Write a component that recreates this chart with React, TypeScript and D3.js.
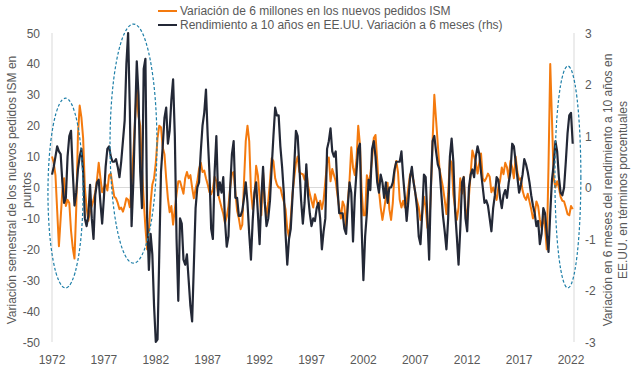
import React from "react";
import * as d3 from "d3";

const startYear = 1972;
const stepsPerYear = 6; // bimonthly readings

const xTickYears = [1972, 1977, 1982, 1987, 1992, 1997, 2002, 2007, 2012, 2017, 2022];
const leftTicks = [50, 40, 30, 20, 10, 0, -10, -20, -30, -40, -50];
const rightTicks = [3, 2, 1, 0, -1, -2, -3];

const legendLabels = [
  "Variación de 6 millones en los nuevos pedidos ISM",
  "Rendimiento a 10 años en EE.UU. Variación a 6 meses (rhs)",
];
const leftTitle = ["Variación semestral de los nuevos pedidos ISM en", "puntos"];
const rightTitle = ["Variación en 6 meses del rendimiento a 10 años en", "EE.UU. en términos porcentuales"];

// ISM new orders, 6-month change (points, left axis)
const ismValues = [
  10, 8, 4, -7.5, -19, -10, -1, 3, -6, -4,
  -5, -14, -19.5, -23, -7, 17, 26.5, 22.7, 16, 0,
  -6.4, -10.8, -7.6, -6, -4, -1.5, 2.5, 8, 3, -1.5,
  0, 1, -1, 4, 4.5, 0.5, -3, -3.5, -5, -7,
  -6.5, -7.8, -6, -3.5, -4, -6.4, 1, 10.8, 21.6, 32,
  23, 20, 6, -4, -13, -20, -14, -5, 1, 3,
  8, 16, 20, 19.5, 13, 10.8, 3, -3.5, -8, -6,
  -12, -7, -2.2, 2, 2, 0, -2, 3, 5, 3,
  4, 0, -3.5, -0.5, 2, 6, 8, 5, 5.5, 3,
  1, -1.5, -2.2, -0.5, 3.5, 2, -2, -4.3, -6.5, -8.5,
  -11.5, -9.5, -6, 0, 4.5, 5, -1.5, -7.5, -10, -13.5,
  -12, 2, 15, 20, 15, -1, -7, -3, 7, 4,
  -3, -9, 5, -5, -9.5, -4.5, 2, 9.5, 8.5, 3,
  1, 0, 0, -2.5, -4.5, -7, -13.5, -16, -10, -2,
  3, 8, 10, 5, 4.5, 4.3, 2.5, 5.5, 0.5, -2,
  -4.3, -6.5, -2.2, -4.3, -6.5, -4.3, -7, -4, 2, 8,
  9.7, 2, 6, 4, 2, -2.5, -6.5, -10, -4.5, -6,
  -12.5, -4.5, 2.5, 13, 6.5, 4, 9, 20, 14, -1,
  -9, -9, 4, 1, 4.3, 9, 16, 17, 8.6, -1,
  -6.5, -10.5, -7, -3, 1.5, -7, -10.5, -5, 5, 8.6,
  5, -4, -6.5, -4.3, -6.5, -4.3, 0, 4.3, 4.3, 2.2,
  -2, -4.3, -6.5, -10.5, -8.5, -3, -6.5, -13, -14, -1,
  15, 30, 22, 14, 6, 3, 0, -4, -8.6, -2,
  9, 8, -2.2, -6.5, -10.5, -6.5, 3, -2, 3.5, -6.5,
  -10.5, -3, 4.5, 12, 10, 8, 4.5, 8, 11, 3,
  2, 3, 4.5, 3.5, -1.5, 0, -2, -4, 0, 2.2,
  6.5, 4.3, 8, 6.5, 3, 8.6, 6.5, 3, 10, 5,
  2.5, 3, -1, -3, -4, -2, -4.5, -7, -10, -8.5,
  -4.5, -6, -10.5, -13, -9.5, -13, -20, 7, 40, 22,
  3, 0, 2, 0, -3, -4.3, -4.5, -6.5, -8.6, -9,
  -6, -7,
];

// US 10y yield, 6-month change (percentage points, right axis)
const yieldValues = [
  0.25, 0.4, 0.6, 0.8, 0.7, 0.65, 0.1, -0.3, -0.2, 0.6,
  1.0, 1.1, 0.3, -0.35, -0.1, 0.35, 0.6, 0.75, 0.3, -0.6,
  -0.75, -0.55, 0.05, -0.6, -1.0, -0.15, 0.1, 0.15, -0.3, -0.7,
  -0.2, 0.4, 0.75, 0.8, 0.6, 0.5, 0.5, 0.55, 0.4, 0.2,
  0.5, 0.9, 1.3, 2.4, 3.0, 1.5, -0.75, 0.1, 1.3, 2.45,
  1.8, 0.3, -0.4, 2.3, 2.5, -0.6, -1.6, -0.9, -1.3, -2.3,
  -3.0, -2.95, -1.3, 0.3, 0.8, 1.35, 1.55, 0.85, 1.1, 1.7,
  2.1, 1.0, -1.0, -2.2, -0.6, -0.7, -1.4, -1.5, -1.3, -1.8,
  -2.3, -2.6, -1.5, -0.4, 0.0, 0.1, 0.7, 1.2, 1.45, 1.9,
  1.0, 0.3, -0.8, -1.0, 0.3, 1.0, -0.15, 0.1, -0.1, 0.2,
  -0.65, -1.15, -0.95, 0.0, 0.65, 0.9, -0.2, -0.2, -0.55, -0.55,
  -0.45, -0.2, 0.1, -0.3, -0.9, -1.4, -0.65, -0.1, 0.1, -0.5,
  -1.1, -0.2, 0.4, -0.3, -0.75, -0.6, -0.25, 0.4, 1.0, 1.55,
  1.4, 1.4, 0.8, 0.4, -0.1, -0.9, -1.5, -1.0, -0.8, -0.2,
  0.4, 1.1, 1.0, 0.4, -0.25, -0.7, -0.3, 0.45, -0.15, -0.5,
  -0.75, -0.6, -0.65, -0.4, -0.3, -0.6, -1.2, -0.85, -0.6, 0.75,
  0.9, 1.15, 0.7, 0.6, 0.7, 0.0, -0.5, -0.5, -0.5, -0.8,
  -0.9, -0.35, 0.1, -0.1, -1.05, -0.2, 0.3, 0.75, 0.85, -0.8,
  -1.8, -0.95, -0.5, 0.15, -0.05, 0.75, 0.9, 0.6, 0.1, -0.1,
  0.25, 0.1, -0.2, 0.1, -0.3, 0.0, 0.0, 0.1, 0.35, 0.5,
  0.5, 0.5, 0.7, 0.2, -0.2, -0.65, -0.25, 0.2, 0.4, 0.1,
  -0.1, -0.4, -0.95, -1.1, -0.5, 0.25, 0.2, -0.6, -1.4, 0.0,
  0.9, 1.0, 0.7, 0.45, 0.35, -0.1, -0.55, -0.85, -1.2, -0.6,
  0.6, 0.95, 0.5, -0.45, -0.95, -1.5, -0.8, 0.1, 0.2, -0.6,
  -0.85, 0.0, 0.25, 0.35, 0.2, 0.6, 0.8, 0.65, 0.3, 0.0,
  -0.3, -0.25, -0.35, -0.6, -0.85, -0.4, -0.15, 0.2, 0.15, -0.2,
  -0.4, -0.15, -0.05, -0.2, 0.1, 0.3, 0.85, 0.8, 0.5, 0.2,
  -0.1, 0.05, 0.25, 0.55, 0.45, 0.3, 0.1, -0.15, -0.35, -0.5,
  -0.75, -0.65, -1.1, -0.9, -0.4, -0.5, -0.9, -1.25, -0.5, 0.15,
  0.45, 0.9, 0.7, 0.2, -0.1, -0.15, 0.0, 0.5, 1.05, 1.4,
  1.45, 0.85,
];

// highlighted periods (year centre, left-axis value centre, half-width in years, half-height in points)
const highlightYears = [1973.3, 1979.85, 2021.7];
const highlightValues = [-1.8, 14.2, 3.4];
const highlightYearRadii = [1.69, 2.26, 1.25];
const highlightValueRadii = [30.7, 38.7, 35.9];

const ORANGE = "#F47A0E";
const NAVY = "#232836";
const TEXT = "#595959";
const GRID = "#D9D9D9";
const FONT = "'Liberation Sans', Arial, sans-serif";

export default function App() {
  const W = 640, H = 380;
  const x = d3.scaleLinear().domain([1972, 2022]).range([52, 571]);
  const yL = d3.scaleLinear().domain([-50, 50]).range([342, 33]);
  const yR = d3.scaleLinear().domain([-3, 3]).range([342, 33]);
  const yearOf = (i: number) => startYear + i / stepsPerYear;

  const ismLine = d3.line<number>().x((_, i) => x(yearOf(i))).y((d) => yL(d));
  const yieldLine = d3.line<number>().x((_, i) => x(yearOf(i))).y((d) => yR(d));

  const [x0, x1] = [x(1972), 574];

  return (
    <svg width={W} height={H} style={{ position: "absolute", left: 0, top: 0, background: "#fff" }} fontFamily={FONT}>
      {/* axes lines */}
      <line x1={x0} x2={x0} y1={yL(50)} y2={yL(-50)} stroke={GRID} strokeWidth={1} />
      <line x1={x1} x2={x1} y1={yR(3)} y2={yR(-3)} stroke={GRID} strokeWidth={1} />
      <line x1={x0} x2={x1} y1={yL(0)} y2={yL(0)} stroke={GRID} strokeWidth={1} />

      {/* left ticks */}
      {leftTicks.map((t) => (
        <text key={"l" + t} x={40} y={yL(t) + 4.5} textAnchor="end" fontSize={12} fill={TEXT}>{t}</text>
      ))}
      {rightTicks.map((t) => (
        <text key={"r" + t} x={585} y={yR(t) + 4.5} textAnchor="start" fontSize={12} fill={TEXT}>{t}</text>
      ))}
      {xTickYears.map((t) => (
        <text key={"x" + t} x={x(t)} y={364} textAnchor="middle" fontSize={12} fill={TEXT}>{t}</text>
      ))}

      {/* axis titles */}
      {leftTitle.map((s, i) => (
        <text key={"lt" + i} transform={`translate(${16 + i * 15},${190}) rotate(-90)`} textAnchor="middle" fontSize={12} fill={TEXT}>{s}</text>
      ))}
      {rightTitle.map((s, i) => (
        <text key={"rt" + i} transform={`translate(${612 + i * 15},${190}) rotate(-90)`} textAnchor="middle" fontSize={12} fill={TEXT}>{s}</text>
      ))}

      {/* series */}
      <path d={ismLine(ismValues) || ""} fill="none" stroke={ORANGE} strokeWidth={2} strokeLinejoin="round" />
      <path d={yieldLine(yieldValues) || ""} fill="none" stroke={NAVY} strokeWidth={2.2} strokeLinejoin="round" />

      {/* highlight ellipses */}
      {highlightYears.map((yr, i) => (
        <ellipse
          key={"e" + i}
          cx={x(yr)}
          cy={yL(highlightValues[i])}
          rx={x(yr + highlightYearRadii[i]) - x(yr)}
          ry={yL(0) - yL(highlightValueRadii[i])}
          fill="none"
          stroke="#1E7FA8"
          strokeWidth={1.2}
          strokeDasharray="3,2"
        />
      ))}

      {/* legend */}
      <line x1={158} x2={177} y1={11} y2={11} stroke={ORANGE} strokeWidth={2} />
      <text x={180} y={15} fontSize={12} fill={TEXT}>{legendLabels[0]}</text>
      <line x1={158} x2={177} y1={25} y2={25} stroke={NAVY} strokeWidth={2} />
      <text x={180} y={29} fontSize={12} fill={TEXT}>{legendLabels[1]}</text>
    </svg>
  );
}
